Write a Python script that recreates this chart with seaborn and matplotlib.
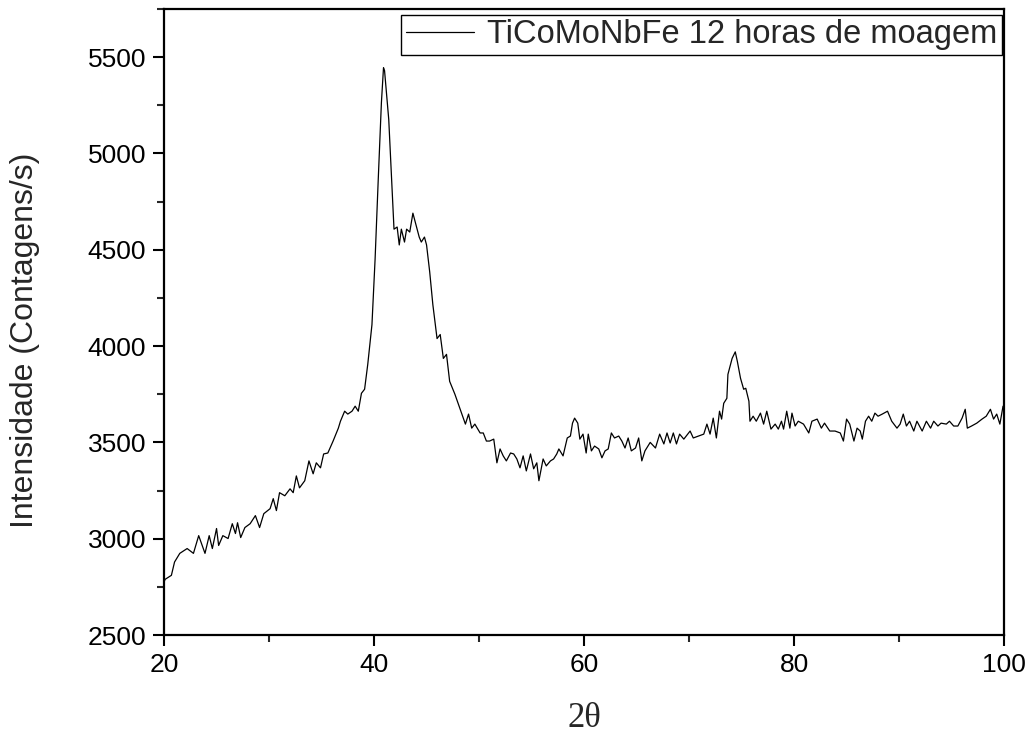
import matplotlib
matplotlib.use("Agg")
import matplotlib.pyplot as plt
from matplotlib.ticker import MultipleLocator
import seaborn as sns
import pandas as pd

two_theta = [
    20.0, 20.1, 20.7, 21.0, 21.5, 22.2, 22.8, 23.3, 23.9, 24.3, 24.6, 25.0, 25.2, 25.6, 26.1, 26.5,
    26.8, 27.0, 27.3, 27.7, 28.2, 28.7, 29.1, 29.5, 30.1, 30.4, 30.7, 31.0, 31.5, 32.0, 32.3, 32.6,
    32.9, 33.4, 33.8, 34.2, 34.5, 34.9, 35.2, 35.6, 36.1, 36.6, 36.8, 37.2, 37.5, 37.9, 38.2, 38.5,
    38.8, 39.1, 39.4, 39.8, 40.1, 40.4, 40.7, 40.9, 41.0, 41.4, 41.7, 41.9, 42.2, 42.4, 42.6, 42.9,
    43.1, 43.4, 43.7, 44.0, 44.3, 44.5, 44.8, 45.0, 45.3, 45.6, 46.0, 46.3, 46.6, 46.9, 47.2, 47.7,
    48.2, 48.7, 49.0, 49.3, 49.6, 50.1, 50.4, 50.7, 51.0, 51.4, 51.7, 52.0, 52.3, 52.6, 53.0, 53.3,
    53.6, 53.9, 54.2, 54.5, 54.9, 55.2, 55.5, 55.7, 56.1, 56.4, 56.8, 57.1, 57.4, 57.6, 58.0, 58.4,
    58.7, 58.9, 59.1, 59.4, 59.6, 59.9, 60.2, 60.4, 60.7, 61.0, 61.4, 61.7, 62.0, 62.3, 62.6, 62.9,
    63.3, 63.6, 63.9, 64.2, 64.5, 64.9, 65.2, 65.5, 65.8, 66.3, 66.8, 67.2, 67.6, 67.9, 68.2, 68.5,
    68.8, 69.1, 69.5, 70.1, 70.4, 70.9, 71.4, 71.7, 72.0, 72.3, 72.6, 72.9, 73.1, 73.3, 73.6, 73.7,
    74.1, 74.4, 74.6, 74.9, 75.2, 75.4, 75.7, 75.8, 76.1, 76.4, 76.8, 77.1, 77.4, 77.8, 78.2, 78.5,
    78.8, 79.0, 79.3, 79.6, 79.8, 80.1, 80.4, 80.9, 81.4, 81.7, 82.2, 82.6, 82.9, 83.4, 83.9, 84.4,
    84.7, 85.0, 85.3, 85.7, 86.0, 86.3, 86.5, 86.8, 87.1, 87.4, 87.7, 88.0, 88.4, 88.9, 89.3, 89.8,
    90.1, 90.4, 90.7, 91.0, 91.4, 91.7, 92.2, 92.6, 93.0, 93.3, 93.7, 94.0, 94.5, 94.8, 95.2, 95.6,
    96.0, 96.3, 96.5, 96.9, 97.4, 97.9, 98.3, 98.7, 99.0, 99.3, 99.6, 99.9, 100.0,
]

intensity = [
    2775, 2789, 2810, 2879, 2924, 2949, 2924, 3016, 2924, 3016, 2949, 3053, 2965, 3016, 3001, 3078,
    3027, 3083, 3006, 3058, 3078, 3120, 3058, 3130, 3156, 3208, 3146, 3239, 3223, 3259, 3239, 3326,
    3264, 3301, 3404, 3337, 3394, 3368, 3440, 3445, 3507, 3574, 3610, 3662, 3647, 3662, 3688, 3662,
    3755, 3776, 3905, 4111, 4452, 4866, 5263, 5445, 5430, 5176, 4835, 4607, 4618, 4525, 4607, 4540,
    4607, 4592, 4690, 4628, 4566, 4540, 4566, 4525, 4385, 4215, 4039, 4060, 3936, 3957, 3817, 3750,
    3672, 3595, 3647, 3574, 3595, 3549, 3549, 3507, 3507, 3517, 3394, 3466, 3430, 3404, 3445, 3440,
    3414, 3368, 3430, 3352, 3440, 3363, 3394, 3301, 3414, 3378, 3404, 3414, 3440, 3466, 3430, 3523,
    3533, 3600, 3626, 3600, 3517, 3543, 3445, 3543, 3456, 3481, 3466, 3420, 3456, 3466, 3549, 3523,
    3533, 3507, 3471, 3523, 3456, 3471, 3523, 3404, 3456, 3500, 3471, 3543, 3492, 3549, 3497, 3549,
    3492, 3543, 3517, 3559, 3523, 3533, 3543, 3595, 3543, 3626, 3523, 3662, 3621, 3703, 3729, 3853,
    3936, 3970, 3920, 3833, 3776, 3781, 3714, 3610, 3636, 3610, 3652, 3595, 3662, 3569, 3595, 3569,
    3610, 3569, 3662, 3574, 3652, 3585, 3610, 3595, 3549, 3610, 3621, 3574, 3600, 3559, 3559, 3549,
    3507, 3621, 3595, 3507, 3574, 3559, 3517, 3610, 3636, 3610, 3652, 3636, 3647, 3662, 3610, 3574,
    3595, 3647, 3585, 3610, 3559, 3610, 3559, 3610, 3574, 3610, 3585, 3600, 3595, 3610, 3585, 3585,
    3626, 3672, 3574, 3585, 3600, 3621, 3636, 3672, 3621, 3647, 3595, 3688, 3662,
]

series_label = "TiCoMoNbFe 12 horas de moagem"
x_ticks = [20, 40, 60, 80, 100]
y_ticks = [2500, 3000, 3500, 4000, 4500, 5000, 5500]

sns.set_style("ticks")
plt.rcParams["font.family"] = ["Liberation Sans", "DejaVu Sans"]

df = pd.DataFrame({"two_theta": two_theta, "intensity": intensity})

fig = plt.figure(figsize=(10.33, 7.35), dpi=100)
ax = fig.add_axes([0.1588, 0.136, 0.8132, 0.8518])

sns.lineplot(data=df, x="two_theta", y="intensity", ax=ax, color="black",
             linewidth=0.9, label=series_label, sort=False, estimator=None)

ax.set_xlim(20, 100)
ax.set_ylim(2500, 5750)
ax.set_xticks(x_ticks)
ax.set_yticks(y_ticks)
ax.xaxis.set_minor_locator(MultipleLocator(10))
ax.yaxis.set_minor_locator(MultipleLocator(250))
ax.tick_params(axis="both", which="major", direction="out", length=8, width=1.5,
               labelsize=19, colors="black", pad=5)
ax.tick_params(axis="both", which="minor", direction="out", length=5, width=1.5)
ax.tick_params(top=False, right=False, which="both")

for sp in ax.spines.values():
    sp.set_visible(True)
    sp.set_linewidth(1.6)
    sp.set_color("black")

ax.set_xlabel("2θ", fontsize=25, family=["Liberation Serif", "DejaVu Serif"], labelpad=18)
ax.set_ylabel("Intensidade (Contagens/s)", fontsize=23)
ax.yaxis.set_label_coords(-0.148, 0.47)

leg = ax.legend(loc="upper right", bbox_to_anchor=(0.998, 0.991), fontsize=23.5,
                frameon=True, fancybox=False, edgecolor="black", framealpha=1,
                handlelength=2.1, handletextpad=0.4, borderpad=0.15, borderaxespad=0)
leg.get_frame().set_linewidth(1.0)

fig.savefig("out.png", dpi=100)
